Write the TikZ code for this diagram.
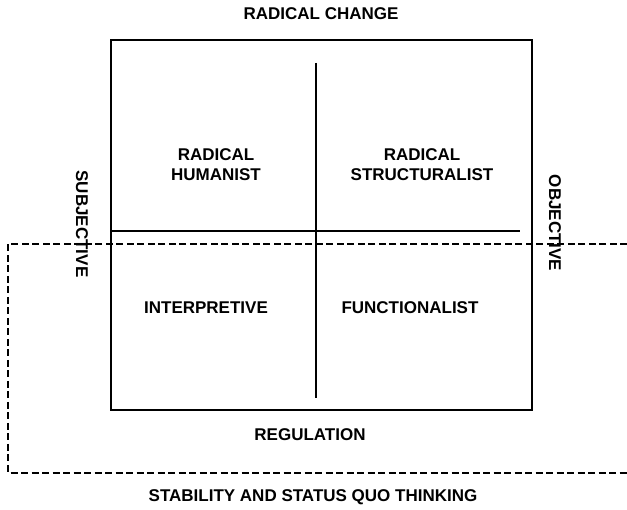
\documentclass[tikz,border=0pt]{standalone}
\usepackage{fontspec}
\setmainfont{Liberation Sans}
\begin{document}
\begin{tikzpicture}[x=1pt,y=-1pt,
  lbl/.style={font=\bfseries\fontsize{17}{20}\selectfont, align=center, inner sep=0pt},
  frame/.style={line width=1.8pt},
  zone/.style={line width=2.6pt, dash pattern=on 7pt off 3.5pt}]
\useasboundingbox (0,0) rectangle (627,510);
% paradigm grid
\draw[frame] (111,40) rectangle (532,410);
\draw[frame] (316,63) -- (316,398);
\draw[frame] (111,231) -- (520,231);
% stability zone (open to the right)
\draw[zone] (627,244) -- (8,244) -- (8,473) -- (627,473);
% axis labels
\node[lbl] (top) at (321,14) {RADICAL CHANGE};
\node[lbl] (reg) at (310,435) {REGULATION};
\node[lbl] (stab) at (313,497) {STABILITY AND STATUS QUO THINKING};
\node[lbl, rotate=-90] (subj) at (82,224) {SUBJECTIVE};
\node[lbl, rotate=-90] (obj) at (555,223) {OBJECTIVE};
% quadrants
\node[lbl] (rh) at (216,165) {RADICAL\\HUMANIST};
\node[lbl] (rs) at (422,165) {RADICAL\\STRUCTURALIST};
\node[lbl] (int) at (206,308) {INTERPRETIVE};
\node[lbl] (fun) at (410,308) {FUNCTIONALIST};
\end{tikzpicture}
\end{document}
